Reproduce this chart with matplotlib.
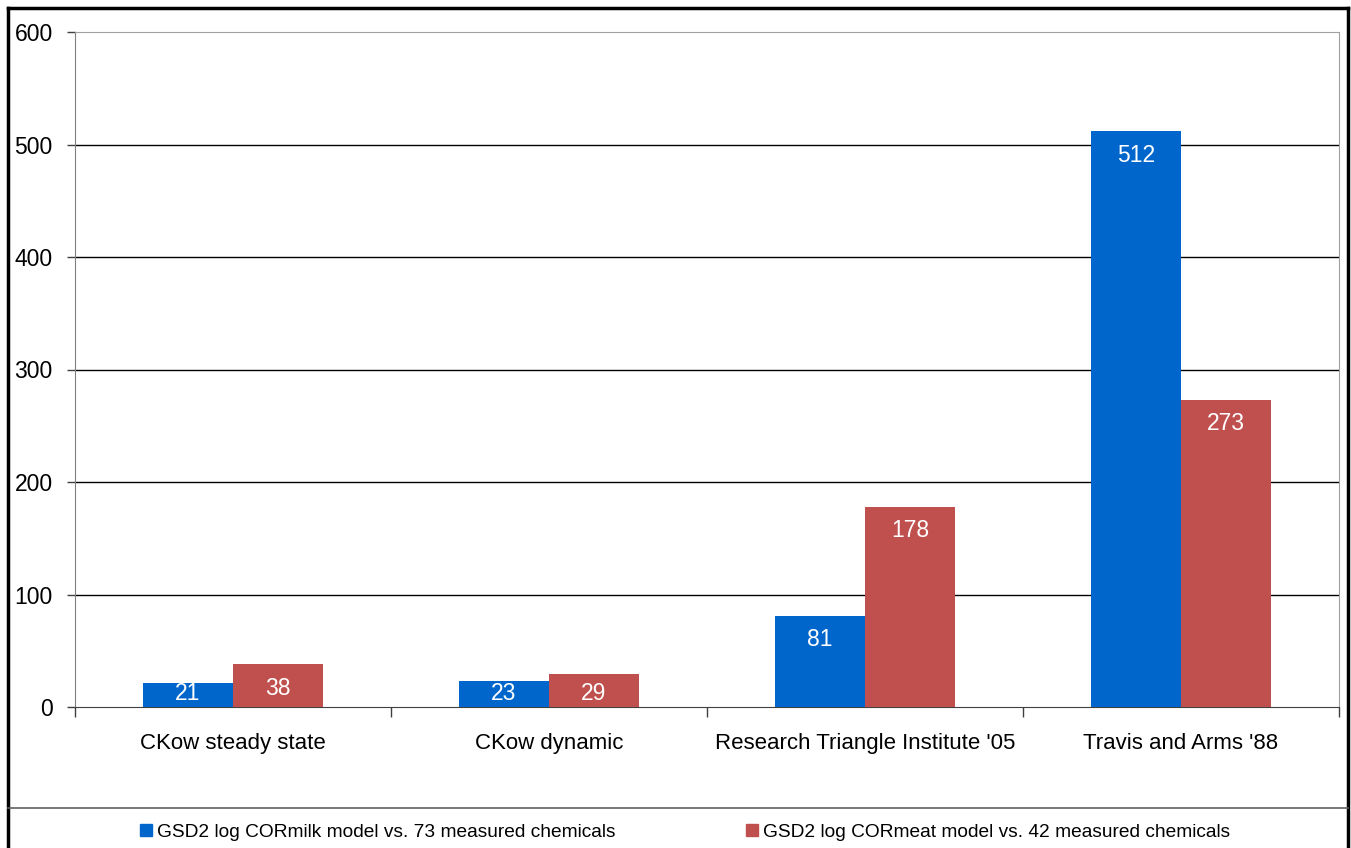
"""
Bar chart: GSD2 of log COR for milk and meat models by method.
"""
import matplotlib
matplotlib.use("Agg")
import matplotlib.pyplot as plt
from matplotlib.lines import Line2D
import numpy as np

plt.rcParams['font.family'] = ['Liberation Sans', 'DejaVu Sans']

categories = ["CKow steady state", "CKow dynamic",
              "Research Triangle Institute '05", "Travis and Arms '88"]
milk_values = [21, 23, 81, 512]
meat_values = [38, 29, 178, 273]
milk_label = "GSD2 log CORmilk model vs. 73 measured chemicals"
meat_label = "GSD2 log CORmeat model vs. 42 measured chemicals"
y_ticks = [0, 100, 200, 300, 400, 500, 600]

blue = '#0066CC'
red = '#C0504D'

fig = plt.figure(figsize=(13.51, 8.48), dpi=100)
ax = fig.add_axes([75 / 1351, 1 - 707 / 848, (1339 - 75) / 1351, (707 - 32) / 848])

x = np.arange(len(categories))
w = 0.285
b1 = ax.bar(x - w / 2, milk_values, w, color=blue, label=milk_label, zorder=3)
b2 = ax.bar(x + w / 2, meat_values, w, color=red, label=meat_label, zorder=3)

ax.set_xlim(-0.5, len(categories) - 0.5)
ax.set_ylim(0, 600)
px_per_unit = 675 / 600

# value labels inside the top of each bar, kept above the axis for short bars
for bars, vals in ((b1, milk_values), (b2, meat_values)):
    for rect, v in zip(bars, vals):
        drop = min(24, v * px_per_unit - 13)
        ax.annotate(str(v), (rect.get_x() + rect.get_width() / 2, v),
                    xytext=(0, -drop), textcoords='offset pixels',
                    ha='center', va='center', color='white', fontsize=16.5, zorder=4)

ax.set_yticks(y_ticks)
ax.set_yticklabels([str(t) for t in y_ticks], fontsize=16.5)
ax.tick_params(axis='y', length=6, width=1, color='#404040', pad=10)

ax.set_xticks(x)
ax.set_xticklabels(categories, fontsize=16)
ax.tick_params(axis='x', which='major', length=0, pad=19)
ax.set_xticks(np.arange(-0.5, len(categories)), minor=True)
ax.tick_params(axis='x', which='minor', length=7, width=1, color='#404040')

for t in y_ticks[1:-1]:
    ax.axhline(t, color='black', lw=1, zorder=1)

ax.spines['left'].set_color('#808080')
ax.spines['bottom'].set_color('#404040')
ax.spines['top'].set_color('#a0a0a0')
ax.spines['right'].set_color('#a0a0a0')

# outer frame and legend separator
fig.add_artist(Line2D([8 / 1351, 8 / 1351], [0, 1 - 8 / 848], color='black', lw=2.5))
fig.add_artist(Line2D([8 / 1351, 1348 / 1351], [1 - 8 / 848, 1 - 8 / 848], color='black', lw=2.5))
fig.add_artist(Line2D([1348 / 1351, 1348 / 1351], [0, 1 - 8 / 848], color='black', lw=2.5))
fig.add_artist(Line2D([8 / 1351, 1348 / 1351], [1 - 808 / 848, 1 - 808 / 848], color='#606060', lw=1.2))

handles = [Line2D([], [], marker='s', ls='', color=blue, markersize=8),
           Line2D([], [], marker='s', ls='', color=red, markersize=8)]
fig.legend(handles, [milk_label, meat_label], loc='center left',
           bbox_to_anchor=(119 / 1351, 1 - 832 / 848), ncol=2, frameon=False,
           fontsize=13.8, handletextpad=0.1, columnspacing=6.6, handlelength=1)

fig.savefig("out.png", dpi=100)
